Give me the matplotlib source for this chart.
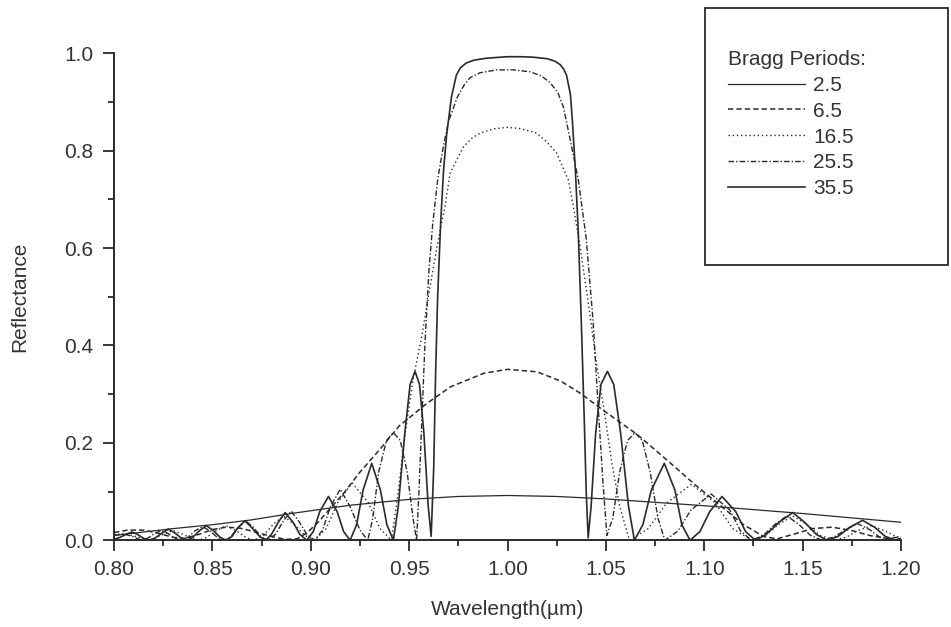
import matplotlib
matplotlib.use("Agg")
import matplotlib.pyplot as plt
from matplotlib.patches import Rectangle
from matplotlib.ticker import MultipleLocator, FormatStrFormatter

plt.rcParams['font.family'] = ['Liberation Sans', 'DejaVu Sans']

# reflectance spectra of a Bragg mirror, wavelength in um
wl_2p5 = [0.800, 0.830, 0.850, 0.870, 0.890, 0.920, 0.950, 0.975, 1.000, 1.025,
          1.050, 1.075, 1.100, 1.125, 1.150, 1.175, 1.200]
r_2p5 = [0.010, 0.024, 0.032, 0.042, 0.055, 0.072, 0.084, 0.090, 0.092, 0.090,
         0.085, 0.078, 0.071, 0.063, 0.055, 0.046, 0.037]

wl_6p5 = [0.800, 0.807, 0.815, 0.823, 0.830, 0.836, 0.843, 0.850, 0.857, 0.864,
          0.872, 0.880, 0.887, 0.893, 0.898, 0.904, 0.910, 0.917, 0.925, 0.935,
          0.945, 0.959, 0.971, 0.988, 1.000, 1.015, 1.027, 1.037, 1.049, 1.066,
          1.081, 1.0945, 1.108, 1.120, 1.130, 1.137, 1.145, 1.155, 1.165, 1.175,
          1.185, 1.193, 1.200]
r_6p5 = [0.016, 0.021, 0.021, 0.014, 0.006, 0.004, 0.012, 0.022, 0.027, 0.025,
         0.017, 0.008, 0.002, 0.003, 0.015, 0.038, 0.066, 0.098, 0.140, 0.186,
         0.235, 0.281, 0.315, 0.343, 0.351, 0.346, 0.327, 0.302, 0.266, 0.217,
         0.165, 0.117, 0.072, 0.032, 0.008, 0.003, 0.012, 0.024, 0.027, 0.020,
         0.009, 0.004, 0.007]

wl_16p5 = [0.800, 0.806, 0.812, 0.817, 0.821, 0.8255, 0.830, 0.8345, 0.839, 0.843,
           0.847, 0.852, 0.857, 0.862, 0.867, 0.871, 0.876, 0.881, 0.886, 0.8915,
           0.897, 0.902, 0.9078, 0.9137, 0.921, 0.9293, 0.9352, 0.941, 0.9445, 0.948,
           0.952, 0.9565, 0.961, 0.9645, 0.9682, 0.9708, 0.9776, 0.982, 0.986, 0.993,
           1.000, 1.007, 1.0148, 1.020, 1.025, 1.0309, 1.0335, 1.037, 1.041, 1.045,
           1.049, 1.053, 1.057, 1.062, 1.0715, 1.081, 1.0935, 1.1055, 1.1145, 1.124,
           1.131, 1.138, 1.145, 1.152, 1.159, 1.166, 1.172, 1.178, 1.185, 1.1915,
           1.197, 1.200]
r_16p5 = [0.012, 0.013, 0.007, 0.000, 0.005, 0.013, 0.020, 0.013, 0.005, 0.000,
          0.006, 0.020, 0.030, 0.020, 0.006, 0.000, 0.010, 0.033, 0.050, 0.033,
          0.010, 0.000, 0.024, 0.077, 0.118, 0.077, 0.024, 0.000, 0.100, 0.220,
          0.330, 0.420, 0.530, 0.610, 0.685, 0.754, 0.808, 0.826, 0.836, 0.845,
          0.848, 0.845, 0.836, 0.818, 0.795, 0.740, 0.685, 0.600, 0.490, 0.370,
          0.270, 0.160, 0.070, 0.000, 0.024, 0.077, 0.115, 0.077, 0.024, 0.000,
          0.010, 0.033, 0.050, 0.033, 0.010, 0.000, 0.006, 0.020, 0.030, 0.020,
          0.009, 0.005]

wl_25p5 = [0.800, 0.805, 0.810, 0.814, 0.8175, 0.8205, 0.824, 0.8275, 0.8305, 0.834,
           0.8375, 0.841, 0.845, 0.849, 0.8525, 0.856, 0.8595, 0.863, 0.867, 0.871,
           0.8745, 0.878, 0.882, 0.886, 0.890, 0.894, 0.898, 0.902, 0.906, 0.910,
           0.915, 0.920, 0.925, 0.929, 0.9315, 0.9345, 0.9385, 0.942, 0.9455, 0.949,
           0.952, 0.9538, 0.955, 0.9565, 0.958, 0.960, 0.962, 0.9645, 0.967, 0.970,
           0.9745, 0.978, 0.981, 0.986, 0.9945, 1.003, 1.0115, 1.017, 1.0216, 1.0255,
           1.0284, 1.032, 1.036, 1.040, 1.0435, 1.046, 1.0485, 1.0505, 1.0535, 1.057,
           1.061, 1.0648, 1.0685, 1.0725, 1.0765, 1.080, 1.0866, 1.0932, 1.1035, 1.113,
           1.1185, 1.124, 1.130, 1.136, 1.142, 1.148, 1.154, 1.160, 1.166, 1.172,
           1.178, 1.184, 1.189, 1.195, 1.200]
r_25p5 = [0.010, 0.013, 0.007, 0.000, 0.005, 0.014, 0.020, 0.014, 0.005, 0.000,
          0.006, 0.019, 0.028, 0.019, 0.006, 0.000, 0.008, 0.026, 0.040, 0.026,
          0.008, 0.000, 0.012, 0.039, 0.060, 0.039, 0.012, 0.000, 0.021, 0.069,
          0.105, 0.069, 0.021, 0.000, 0.045, 0.140, 0.205, 0.221, 0.205, 0.140,
          0.045, 0.000, 0.100, 0.250, 0.400, 0.550, 0.650, 0.740, 0.800, 0.860,
          0.910, 0.935, 0.950, 0.960, 0.966, 0.966, 0.962, 0.954, 0.940, 0.920,
          0.890, 0.820, 0.740, 0.620, 0.450, 0.280, 0.120, 0.010, 0.045, 0.140,
          0.205, 0.221, 0.205, 0.140, 0.045, 0.000, 0.019, 0.062, 0.095, 0.062,
          0.019, 0.000, 0.010, 0.033, 0.050, 0.033, 0.010, 0.000, 0.007, 0.022,
          0.034, 0.022, 0.007, 0.000, 0.004]

wl_35p5 = [0.800, 0.803, 0.806, 0.809, 0.812, 0.815, 0.818, 0.821, 0.8245, 0.8276,
           0.831, 0.834, 0.837, 0.840, 0.8435, 0.847, 0.8505, 0.854, 0.857, 0.860,
           0.863, 0.8665, 0.870, 0.874, 0.877, 0.880, 0.8835, 0.887, 0.891, 0.8945,
           0.898, 0.9013, 0.9046, 0.909, 0.9134, 0.9167, 0.920, 0.9233, 0.9266, 0.931,
           0.9354, 0.9387, 0.942, 0.9445, 0.9478, 0.9505, 0.953, 0.9553, 0.9575, 0.9597,
           0.9612, 0.9625, 0.9635, 0.9645, 0.966, 0.9675, 0.969, 0.9715, 0.974, 0.976,
           0.979, 0.983, 0.9895, 1.000, 1.0065, 1.013, 1.020, 1.024, 1.0267, 1.0285,
           1.030, 1.032, 1.033, 1.0345, 1.036, 1.0375, 1.039, 1.040, 1.041, 1.0425,
           1.0448, 1.0475, 1.0508, 1.054, 1.0575, 1.0615, 1.0645, 1.0688, 1.0731, 1.0797,
           1.0851, 1.0886, 1.0928, 1.0978, 1.1028, 1.109, 1.116, 1.121, 1.126, 1.1315,
           1.138, 1.145, 1.151, 1.157, 1.1625, 1.168, 1.174, 1.1805, 1.1865, 1.192,
           1.1975, 1.200]
r_35p5 = [0.002, 0.006, 0.012, 0.017, 0.012, 0.004, 0.000, 0.005, 0.015, 0.023,
          0.015, 0.005, 0.000, 0.006, 0.020, 0.030, 0.020, 0.006, 0.000, 0.008,
          0.026, 0.040, 0.026, 0.008, 0.000, 0.012, 0.037, 0.057, 0.037, 0.012,
          0.000, 0.018, 0.059, 0.090, 0.059, 0.018, 0.000, 0.032, 0.103, 0.158,
          0.103, 0.032, 0.000, 0.070, 0.220, 0.320, 0.347, 0.320, 0.220, 0.070,
          0.008, 0.150, 0.350, 0.500, 0.650, 0.760, 0.830, 0.910, 0.955, 0.970,
          0.980, 0.986, 0.990, 0.993, 0.993, 0.992, 0.989, 0.984, 0.977, 0.968,
          0.955, 0.915, 0.860, 0.760, 0.630, 0.450, 0.250, 0.100, 0.005, 0.070,
          0.220, 0.320, 0.347, 0.320, 0.220, 0.070, 0.000, 0.032, 0.103, 0.158,
          0.103, 0.032, 0.000, 0.018, 0.059, 0.090, 0.059, 0.018, 0.000, 0.012,
          0.037, 0.057, 0.037, 0.012, 0.000, 0.008, 0.027, 0.041, 0.027, 0.008,
          0.000, 0.002]

periods = ['2.5', '6.5', '16.5', '25.5', '35.5']

ink = '#2a2a2a'
fig = plt.figure(figsize=(9.51, 6.27), dpi=100)
ax = fig.add_axes([114 / 951, 1 - 540.3 / 627, 787 / 951, 487 / 627])

ax.plot(wl_2p5, r_2p5, color=ink, lw=0.9, label=periods[0])
ax.plot(wl_6p5, r_6p5, color=ink, lw=1.1, dashes=(3.5, 2.0), label=periods[1])
ax.plot(wl_16p5, r_16p5, color=ink, lw=1.0, dashes=(1.0, 2.0), label=periods[2])
ax.plot(wl_25p5, r_25p5, color=ink, lw=1.0, dashes=(4.0, 1.5, 1.0, 1.5), label=periods[3])
ax.plot(wl_35p5, r_35p5, color=ink, lw=1.2, label=periods[4])

ax.set_xlim(0.8, 1.2)
ax.set_ylim(0.0, 1.0)
ax.xaxis.set_major_locator(MultipleLocator(0.05))
ax.xaxis.set_minor_locator(MultipleLocator(0.025))
ax.yaxis.set_major_locator(MultipleLocator(0.2))
ax.yaxis.set_minor_locator(MultipleLocator(0.1))
ax.xaxis.set_major_formatter(FormatStrFormatter('%.2f'))
ax.yaxis.set_major_formatter(FormatStrFormatter('%.1f'))

for side in ['top', 'right']:
    ax.spines[side].set_visible(False)
for side in ['left', 'bottom']:
    ax.spines[side].set_linewidth(1.4)
    ax.spines[side].set_color(ink)

ax.tick_params(which='major', direction='out', length=8, width=1.3, colors=ink,
               labelsize=15, labelcolor='#333333')
ax.tick_params(which='minor', direction='out', length=4.5, width=1.3, colors=ink)
ax.tick_params(axis='y', pad=7)
ax.tick_params(axis='x', pad=6)

ax.set_xlabel('Wavelength(\u00b5m)', fontsize=15, color='#333333')
ax.set_ylabel('Reflectance', fontsize=15, color='#333333')
ax.xaxis.set_label_coords(0.5, -0.122)
ax.yaxis.set_label_coords(-0.108, 0.5)

# legend box with title and line samples
fig.patches.append(Rectangle((705 / 951, 1 - 265 / 627), 243 / 951, 257 / 627,
                             transform=fig.transFigure, fill=False,
                             edgecolor=ink, linewidth=1.3))
leg = ax.legend(loc='upper left', bbox_to_anchor=(728 / 951, 1 - 50 / 627),
                bbox_transform=fig.transFigure, frameon=False, fontsize=15,
                title='Bragg Periods:', title_fontsize=15, alignment='left',
                handlelength=3.7, handletextpad=0.4, labelspacing=0.33,
                borderpad=0, borderaxespad=0)
for t in leg.get_texts():
    t.set_color('#333333')
leg.get_title().set_color('#333333')

fig.savefig('out.png', dpi=100, facecolor='white')
